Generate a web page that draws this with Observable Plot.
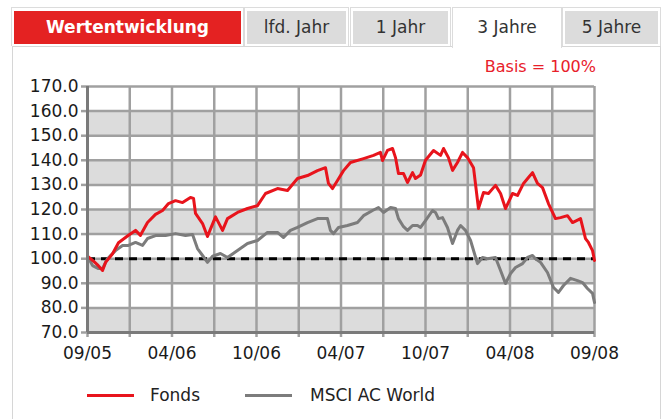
<!DOCTYPE html>
<html>
<head>
<meta charset="utf-8">
<script src="https://cdn.jsdelivr.net/npm/d3@7"></script>
<script src="https://cdn.jsdelivr.net/npm/@observablehq/plot@0.6"></script>
<style>
  html, body { margin: 0; padding: 0; background: #fff; }
  body { width: 669px; height: 419px; overflow: hidden; font-family: "DejaVu Sans", Verdana, sans-serif; }
  #page { position: relative; width: 669px; height: 419px; }
  .cell { position: absolute; top: 7px; height: 39px; border: 1px solid #dcdcdc; border-bottom: none; box-sizing: border-box; background: #fff; }
  .inner { position: absolute; top: 3px; left: 2px; right: 2px; height: 33px; background: #dcdcdc; color: #333; font-size: 17px; text-align: center; line-height: 33px; }
  #panel { position: absolute; left: 12px; top: 46px; width: 649px; height: 380px; border: 1px solid #d6d6d6; box-sizing: border-box; }
  #chart { position: absolute; left: 0; top: 50px; }
  #basis { position: absolute; right: 73px; top: 57px; color: #e8202a; font-size: 16px; }
  .leg { position: absolute; top: 385px; font-size: 17px; color: #222; line-height: 20px; }
  .sw { position: absolute; top: 394px; height: 3px; width: 47px; }
</style>
</head>
<body>
<div id="page">
  <div id="panel"></div>
  <div class="cell" style="left:11px;width:233px;"><div class="inner" style="background:#e42222;color:#fff;font-weight:bold;">Wertentwicklung</div></div>
  <div class="cell" style="left:244px;width:105px;"><div class="inner">lfd. Jahr</div></div>
  <div class="cell" style="left:350px;width:101px;"><div class="inner">1 Jahr</div></div>
  <div class="cell" style="left:452px;width:110px;height:41px;"><div class="inner" style="background:#fff;">3 Jahre</div></div>
  <div class="cell" style="left:562px;width:99px;"><div class="inner">5 Jahre</div></div>
  <div id="basis">Basis = 100%</div>
  <div id="chart"></div>
  <div class="sw" style="left:87px;background:#e8141c;"></div>
  <div class="leg" style="left:150px;">Fonds</div>
  <div class="sw" style="left:245px;background:#7c7c7c;"></div>
  <div class="leg" style="left:310px;">MSCI AC World</div>
</div>
<script>
// months since 09/2005
const xLabels = ["09/05", "04/06", "10/06", "04/07", "10/07", "04/08", "09/08"];
const labelMonths = [0, 6, 12, 18, 24, 30, 36];
const gridMonths = [0, 3, 6, 9, 12, 15, 18, 21, 24, 27, 30, 33, 36];
const yTicks = [70, 80, 90, 100, 110, 120, 130, 140, 150, 160, 170];
const bandLo = [70, 90, 110, 130, 150];
const baseLevel = [100];

const fondsT = [0, 0.43, 0.71, 1.07, 1.28, 1.78, 2.20, 2.91, 3.41, 3.76, 4.26, 4.83, 5.33, 5.75, 6.25, 6.75, 7.31, 7.53, 7.67, 8.17, 8.52, 8.73, 9.09, 9.59, 9.94, 10.65, 11.36, 12.07, 12.64, 13.49, 14.20, 14.91, 15.62, 16.33, 16.90, 17.11, 17.40, 17.75, 18.18, 18.67, 19.60, 20.31, 20.80, 20.95, 21.30, 21.66, 21.87, 22.08, 22.44, 22.72, 23.08, 23.29, 23.65, 24.00, 24.57, 25.07, 25.28, 25.63, 25.92, 26.27, 26.63, 26.98, 27.20, 27.41, 27.76, 28.12, 28.47, 28.97, 29.33, 29.68, 30.18, 30.53, 30.96, 31.31, 31.60, 31.95, 32.31, 32.73, 33.23, 33.59, 34.08, 34.44, 35.01, 35.36, 35.57, 35.86, 36];
const fondsV = [101, 99, 97.5, 95.2, 98.5, 102, 106.5, 109.5, 111.5, 109.5, 114.7, 118, 119.6, 122.4, 123.6, 122.8, 124.9, 124.5, 118.4, 114.3, 109, 112, 117, 111.5, 116.3, 118.8, 120.4, 121.6, 126.5, 128.5, 127.7, 132.6, 133.8, 135.8, 137, 130.6, 128.5, 131.8, 135.8, 139.1, 140.7, 142, 143.2, 139.9, 144, 144.8, 141.1, 134.6, 134.6, 131, 135, 132.6, 134, 140, 144, 142, 144.8, 141.1, 135.9, 139.1, 143.2, 141.1, 139, 137, 120.4, 126.9, 126.5, 129.8, 126.5, 120.4, 126.5, 125.7, 130.6, 133, 135, 130.6, 128.9, 122.4, 116.3, 116.7, 117.5, 114.7, 116.3, 108.2, 106.6, 103.3, 99.3];

const msciT = [0, 0.36, 0.78, 1.07, 1.42, 1.99, 2.49, 2.91, 3.41, 3.91, 4.26, 4.83, 5.54, 6.25, 6.96, 7.46, 7.81, 8.17, 8.52, 8.88, 9.44, 9.94, 10.65, 11.36, 12.07, 12.78, 13.49, 13.92, 14.41, 14.91, 15.62, 16.33, 17.04, 17.25, 17.47, 17.82, 18.46, 19.17, 19.60, 20.24, 20.66, 21.02, 21.52, 21.87, 22.08, 22.44, 22.72, 23.08, 23.43, 23.65, 24.00, 24.50, 24.71, 24.92, 25.21, 25.56, 25.92, 26.27, 26.49, 26.84, 27.20, 27.69, 28.05, 28.40, 28.97, 29.33, 29.68, 30.04, 30.39, 30.89, 31.24, 31.60, 31.81, 32.17, 32.66, 33.09, 33.44, 33.80, 34.30, 34.79, 35.15, 35.50, 35.86, 36];
const msciV = [101, 97.2, 96, 96, 100, 103.3, 105.4, 105.4, 106.6, 105.4, 108.2, 109.4, 109.4, 110.2, 109.4, 109.8, 104.1, 101.3, 98.5, 101, 102.1, 100.5, 103.3, 106.2, 107.4, 110.7, 110.7, 108.6, 111.5, 112.7, 114.7, 116.3, 116.3, 111.5, 110.2, 112.7, 113.5, 114.7, 117.5, 119.6, 120.8, 118.8, 120.8, 120.4, 116.3, 113, 111.5, 113.5, 113.5, 112.7, 115.5, 119.6, 118.8, 116.3, 116.7, 112.7, 106.2, 111.5, 113.5, 111.5, 107.4, 98, 100.5, 100, 100.5, 95.2, 89.9, 94, 96.4, 98, 100.5, 101.3, 100, 98.5, 94.4, 88.3, 86.3, 89.1, 92, 91.1, 90.3, 87.9, 85.9, 82.2];

const gridColor = "#a0a0a0";
const axisColor = "#7a7a7a";

const chart = Plot.plot({
  width: 669,
  height: 320,
  marginLeft: 87,
  marginRight: 75,
  marginTop: 36,
  marginBottom: 38,
  style: { fontFamily: "DejaVu Sans, Verdana, sans-serif", fontSize: "17px", color: "#1a1a1a", background: "transparent", overflow: "visible" },
  x: { domain: [0, 36] },
  y: { domain: [70, 170] },
  marks: [
    Plot.rect(bandLo, { x1: () => 0, x2: () => 36, y1: d => d, y2: d => d + 10, fill: "#dcdcdc" }),
    Plot.ruleX(gridMonths, { y1: 70, y2: 170, stroke: gridColor, strokeWidth: 2.5 }),
    Plot.ruleY(yTicks, { x1: 0, x2: 36, stroke: gridColor, strokeWidth: 2.5 }),
    Plot.axisY(yTicks, { tickSize: 6, tickPadding: 3, tickFormat: d3.format(".1f"), stroke: gridColor, strokeWidth: 2.5, fontSize: 17, fill: "#1a1a1a" }),
    Plot.axisX(gridMonths, { tickSize: 5, tickFormat: () => "", stroke: gridColor, strokeWidth: 2.5 }),
    Plot.axisX(labelMonths, { tickSize: 0, tickPadding: 14, tickFormat: d => xLabels[labelMonths.indexOf(d)], fontSize: 17, fill: "#1a1a1a" }),
    Plot.ruleY(baseLevel, { x1: 0, x2: 36, stroke: "black", strokeWidth: 3, strokeDasharray: "8,6" }),
    Plot.line(msciV, { x: msciT, y: msciV, stroke: "#7c7c7c", strokeWidth: 3, strokeLinejoin: "round" }),
    Plot.line(fondsV, { x: fondsT, y: fondsV, stroke: "#e8141c", strokeWidth: 3, strokeLinejoin: "round" }),
    Plot.ruleX([0], { y1: 70, y2: 170, stroke: axisColor, strokeWidth: 3 }),
    Plot.ruleY([70], { x1: 0, x2: 36, stroke: axisColor, strokeWidth: 3 })
  ]
});
document.getElementById("chart").appendChild(chart);
</script>
</body>
</html>
